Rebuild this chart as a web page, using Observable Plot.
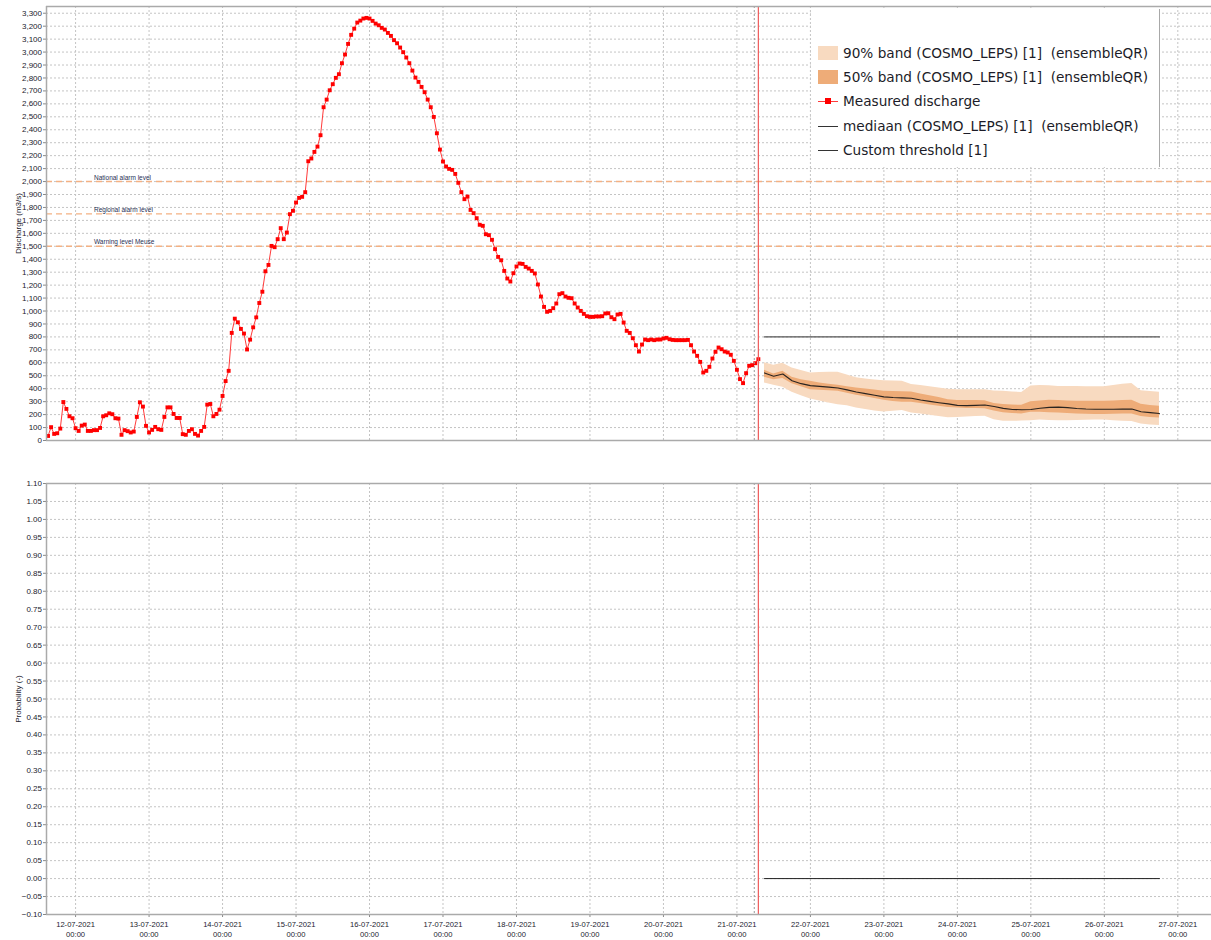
<!DOCTYPE html>
<html>
<head>
<meta charset="utf-8">
<script src="https://cdn.jsdelivr.net/npm/d3@7"></script>
<script src="https://cdn.jsdelivr.net/npm/@observablehq/plot@0.6"></script>
<style>
  html, body { margin: 0; padding: 0; background: #fff; }
  #wrap { position: relative; width: 1211px; height: 940px; overflow: hidden; }
  #wrap svg { display: block; }
  #legend { position: absolute; left: 811px; top: 9px; width: 348px; height: 158px; background: #fff;
            border-right: 1.5px solid #a8a8a8; font-family: "DejaVu Sans", sans-serif; font-size: 13.65px; color: #1c1c28; }
  .row { position: absolute; left: 0; height: 20px; line-height: 20px; white-space: pre; }
  .sw { position: absolute; left: 7px; top: 3px; width: 20px; height: 14px; }
  .ln { position: absolute; left: 7px; top: 9.5px; width: 20px; height: 1.5px; }
  .mk { position: absolute; left: 14px; top: 7px; width: 6px; height: 6px; background: #ff0000; }
  .tx { position: absolute; left: 32px; top: 0; }
</style>
</head>
<body>
<div id="wrap"></div>
<script>
// ---------------- data ----------------
// measured discharge, hourly from 11-07-2021 15:00
const measuredStart = Date.UTC(2021, 6, 11, 15);
const measured = [
  35, 103, 51, 56, 92, 297, 244, 187, 172, 95,
  74, 115, 123, 74, 74, 80, 80, 97, 187, 195,
  210, 203, 172, 169, 44, 80, 72, 62, 69, 182,
  295, 262, 113, 62, 82, 105, 87, 82, 182, 256,
  256, 205, 174, 174, 49, 44, 74, 87, 51, 38,
  74, 105, 277, 282, 187, 205, 238, 344, 459, 538,
  831, 941, 913, 862, 826, 703, 779, 874, 951, 1062,
  1149, 1307, 1356,
  1503, 1493, 1555, 1640, 1555, 1606, 1748, 1774, 1838, 1874,
  1882, 1918, 2157, 2178, 2229, 2270, 2358, 2574, 2633, 2705,
  2752, 2801, 2829, 2914, 2981, 3063, 3133, 3181, 3228, 3243,
  3259, 3264, 3259, 3241, 3220, 3207, 3187, 3174, 3148, 3125,
  3092, 3068, 3035, 2999, 2958, 2914, 2857, 2803, 2770, 2731,
  2690, 2633, 2574, 2499, 2373, 2247, 2155, 2116, 2098, 2090,
  2059, 1990, 1918, 1864, 1884, 1781, 1756, 1717, 1666, 1658,
  1593, 1586, 1550, 1478,
  1418, 1392, 1310, 1251, 1228, 1292, 1344, 1367, 1364, 1341,
  1328, 1310, 1290, 1205, 1112, 1032, 994, 1001, 1022, 1058,
  1130, 1138, 1112, 1102, 1099, 1058, 1027, 1001, 978, 960,
  955, 955, 958, 958, 960, 981, 983, 952, 937, 973,
  978, 911, 847, 831, 790, 736, 687, 741, 780, 775,
  780, 775, 780, 780, 788, 793, 782, 777, 775, 775,
  775, 775, 777, 736, 687, 654, 607, 525, 538, 569,
  633, 685, 718, 705, 687, 680, 662, 615, 546, 474,
  443, 520, 577, 582, 597, 628
];

// forecast (COSMO_LEPS, ensembleQR), hours after 21-07-2021 00:00
const forecastBase = Date.UTC(2021, 6, 21, 0);
const fcHours = [9,12,15,18,21,24,27,30,33,36,39,42,45,48,51,54,57,60,63,66,69,72,75,78,81,84,87,90,93,96,99,102,105,108,111,114,117,120,123,126,129,132,135,138];
const fcMedian = [522,496,514,462,439,424,418,412,406,391,375,362,349,337,332,329,326,313,302,292,283,271,269,271,274,262,248,240,237,240,249,256,258,254,247,243,241,241,241,242,243,222,215,208];
const p50Upper = [542,514,535,488,470,457,445,435,426,415,406,398,390,380,378,376,375,360,345,332,315,308,308,308,307,285,278,274,272,300,305,310,308,305,303,303,303,303,305,308,310,280,270,264];
const p50Lower = [488,470,478,439,415,392,388,384,380,365,350,338,325,310,302,296,295,285,275,264,255,251,248,247,246,228,215,208,205,218,218,215,212,208,205,203,200,200,202,204,205,185,178,174];
const p90Upper = [601,581,596,560,540,522,525,527,527,505,485,475,468,462,460,457,432,425,415,405,395,392,392,392,392,382,380,375,370,420,424,422,418,418,418,416,416,416,425,435,441,385,378,372];
const p90Lower = [444,426,411,372,345,321,305,290,277,268,251,240,228,220,225,231,213,205,195,185,175,178,182,186,187,160,148,148,150,153,158,155,153,153,155,157,158,158,152,148,147,128,120,115];

const customThreshold = 800;
const probThreshold = 0;

const levelValues = [2000, 1750, 1500];
const levelLabels = ["National alarm level", "Regional alarm level", "Warning level Meuse"];

const dischargeTicks = d3.range(0, 3301, 100);
const probTicks = d3.range(-10, 111, 5).map(v => v / 100);
const dayTicks = d3.range(12, 28).map(d => new Date(Date.UTC(2021, 6, d)));

const legendItems = [
  "90% band (COSMO_LEPS) [1]  (ensembleQR)",
  "50% band (COSMO_LEPS) [1]  (ensembleQR)",
  "Measured discharge",
  "mediaan (COSMO_LEPS) [1]  (ensembleQR)",
  "Custom threshold [1]"
];

// ---------------- tables ----------------
const H = 3600e3;
const measuredData = measured.map((v, i) => ({t: new Date(measuredStart + i * H), v}));
const fcData = fcHours.map((h, i) => ({
  t: new Date(forecastBase + h * H),
  med: fcMedian[i], u50: p50Upper[i], l50: p50Lower[i], u90: p90Upper[i], l90: p90Lower[i]
}));
const fcStart = fcData[0].t, fcEnd = fcData[fcData.length - 1].t;
const thresholdSeg = [{t: fcStart}, {t: fcEnd}];
const levelData = levelValues.map((v, i) => ({v, label: levelLabels[i]}));
const labelTime = new Date(Date.UTC(2021, 6, 12, 6));
const nowLine = new Date(Date.UTC(2021, 6, 21, 7));
const t0Line = new Date(Date.UTC(2021, 6, 21, 5, 40));

const xDomain = [new Date(Date.UTC(2021, 6, 11, 14, 30)), new Date(Date.UTC(2021, 6, 27, 11, 0))];
const style = {fontFamily: "'Liberation Sans', Arial, sans-serif", fontSize: "8px", color: "#22222e", background: "#fff", overflow: "visible"};
const gridStyle = {stroke: "#c4c4c4", strokeOpacity: 1, strokeDasharray: "2,2", strokeWidth: 1};
const frame = "#aaaaaa";

// ---------------- top panel ----------------
const topPlot = Plot.plot({
  width: 1211, height: 462,
  marginLeft: 46, marginRight: 0, marginTop: 6, marginBottom: 22,
  style,
  x: {type: "utc", domain: xDomain, axis: null},
  y: {domain: [0, 3352], axis: null},
  marks: [
    Plot.gridX(dayTicks, gridStyle),
    Plot.gridY(dischargeTicks, gridStyle),
    Plot.axisY(dischargeTicks, {
      tickFormat: d3.format(","), tickSize: 3, tickPadding: 1.5, stroke: "#888",
      label: "Discharge (m3/s)", labelAnchor: "center", labelArrow: "none", labelOffset: 31
    }),
    Plot.ruleY(levelData, {y: "v", stroke: "#f4b183", strokeWidth: 1.4, strokeDasharray: "6,4"}),
    Plot.text(levelData, {x: () => labelTime, y: "v", text: "label", textAnchor: "start", dy: -4, fontSize: 6.5, fill: "#1f2f55"}),
    Plot.areaY(fcData, {x: "t", y1: "l90", y2: "u90", fill: "#f8dac0"}),
    Plot.areaY(fcData, {x: "t", y1: "l50", y2: "u50", fill: "#eeac78"}),
    Plot.line(fcData, {x: "t", y: "med", stroke: "#2a2420", strokeWidth: 1.1}),
    Plot.line(thresholdSeg, {x: "t", y: () => customThreshold, stroke: "#555", strokeWidth: 1.4}),
    Plot.line(measuredData, {x: "t", y: "v", stroke: "#ff3a3a", strokeWidth: 1}),
    Plot.dot(measuredData, {x: "t", y: "v", symbol: "square", r: 2.2, fill: "#ff0000", stroke: null}),
    Plot.ruleX([t0Line], {stroke: "#999", strokeDasharray: "2,2", strokeWidth: 1}),
    Plot.ruleX([nowLine], {stroke: "#ee5a5a", strokeWidth: 1.2}),
    Plot.ruleY([3352], {stroke: frame, strokeWidth: 1.5}),
    Plot.ruleY([0], {stroke: frame, strokeWidth: 1.5}),
    Plot.ruleX([xDomain[0]], {stroke: frame, strokeWidth: 1.5})
  ]
});

// ---------------- bottom panel ----------------
const botPlot = Plot.plot({
  width: 1211, height: 478,
  marginLeft: 46, marginRight: 0, marginTop: 21, marginBottom: 26,
  style,
  x: {type: "utc", domain: xDomain, axis: null},
  y: {domain: [-0.10, 1.10], axis: null},
  marks: [
    Plot.gridX(dayTicks, gridStyle),
    Plot.gridY(probTicks, gridStyle),
    Plot.axisY(probTicks, {
      tickFormat: d3.format(".2f"), tickSize: 3, tickPadding: 1.5, stroke: "#888",
      label: "Probability (-)", labelAnchor: "center", labelArrow: "none", labelOffset: 31
    }),
    Plot.axisX(dayTicks, {
      tickFormat: d3.utcFormat("%d-%m-%Y\n%H:%M"), tickSize: 3, tickPadding: 2.5, stroke: "#888",
      fontSize: 7.6, lineHeight: 1.3, label: null
    }),
    Plot.line(thresholdSeg, {x: "t", y: () => probThreshold, stroke: "#222", strokeWidth: 1}),
    Plot.ruleX([t0Line], {stroke: "#999", strokeDasharray: "2,2", strokeWidth: 1}),
    Plot.ruleX([nowLine], {stroke: "#ee5a5a", strokeWidth: 1.2}),
    Plot.ruleY([1.10], {stroke: frame, strokeWidth: 1.5}),
    Plot.ruleY([-0.10], {stroke: frame, strokeWidth: 1.5}),
    Plot.ruleX([xDomain[0]], {stroke: frame, strokeWidth: 1.5})
  ]
});

const wrap = document.getElementById("wrap");
wrap.appendChild(topPlot);
wrap.appendChild(botPlot);

// ---------------- legend ----------------
const legend = document.createElement("div");
legend.id = "legend";
const rowTops = [34, 58, 82, 107, 131];
const swatches = [
  '<div class="sw" style="background:#f8dac0"></div>',
  '<div class="sw" style="background:#eeac78"></div>',
  '<div class="ln" style="background:#ff3a3a"></div><div class="mk"></div>',
  '<div class="ln" style="background:#333"></div>',
  '<div class="ln" style="background:#333"></div>'
];
legendItems.forEach((txt, i) => {
  const r = document.createElement("div");
  r.className = "row";
  r.style.top = rowTops[i] + "px";
  r.innerHTML = swatches[i];
  const t = document.createElement("span");
  t.className = "tx";
  t.textContent = txt;
  r.appendChild(t);
  legend.appendChild(r);
});
wrap.appendChild(legend);
</script>
</body>
</html>
